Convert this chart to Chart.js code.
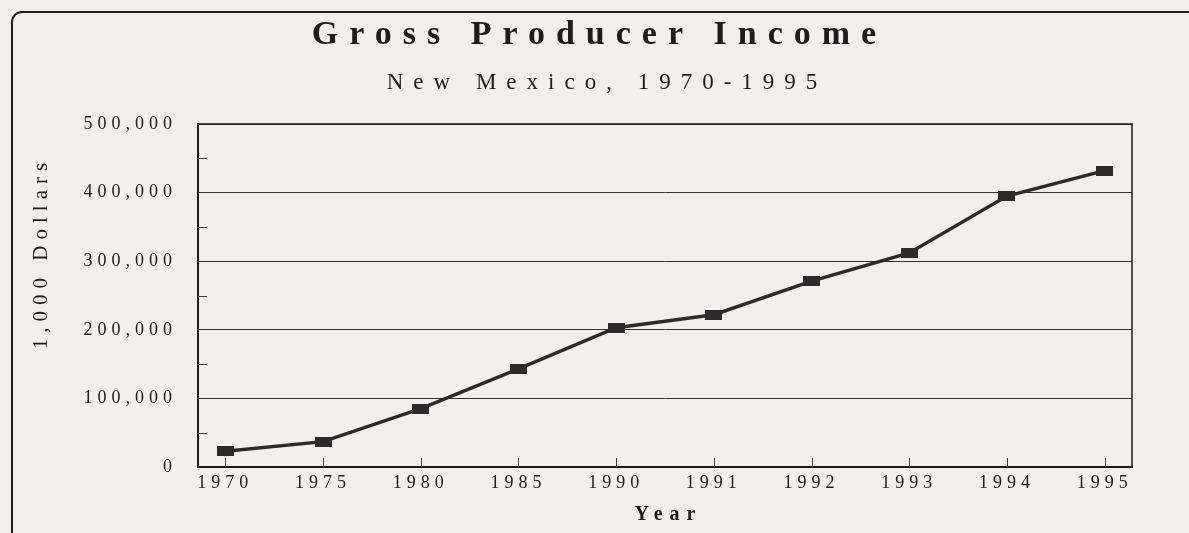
<!DOCTYPE html>
<html><head><meta charset="utf-8">
<script src="https://cdn.jsdelivr.net/npm/chart.js@4.4.0/dist/chart.umd.min.js"></script>
<style>html,body{margin:0;padding:0;background:#f3efee;overflow:hidden;} canvas{display:block;}</style>
</head><body>
<canvas id="c" width="1189" height="533" style="width:1189px;height:533px"></canvas>
<script>
// ---- data ----
const categories = ['1970','1975','1980','1985','1990','1991','1992','1993','1994','1995'];
const income = [23000, 37000, 85000, 143000, 203000, 222000, 271000, 312000, 395000, 432000];
const yMajorTicks = [0, 100000, 200000, 300000, 400000, 500000];
const yMinorTicks = [50000, 150000, 250000, 350000, 450000];
const titleText = 'Gross Producer Income';
const subtitleText = 'New Mexico, 1970-1995';
const yTitleText = '1,000 Dollars';
const xTitleText = 'Year';

const INK = '#1f1b1c';
const SERIF = '"Liberation Serif", "Times New Roman", serif';

// marker: small dark rectangle
const marker = document.createElement('canvas');
marker.width = 17; marker.height = 10;
(function(){ const m = marker.getContext('2d'); m.fillStyle = '#2e2a2b'; m.fillRect(0,0,17,10); })();

function setSpacing(chart){ chart.ctx.letterSpacing = '5px'; }

const decor = {
  id: 'decor',
  beforeUpdate: setSpacing,
  beforeLayout: setSpacing,
  beforeDraw(chart){
    const ctx = chart.ctx;
    ctx.save();
    ctx.letterSpacing = '0px';
    ctx.fillStyle = '#f3efee';
    ctx.fillRect(0,0,chart.width,chart.height);
    // outer frame (rounded top-left corner, continues off right/bottom)
    ctx.strokeStyle = INK; ctx.lineWidth = 2;
    ctx.beginPath();
    const r = 10, x0 = 12, y0 = 12;
    ctx.moveTo(x0, chart.height + 10);
    ctx.lineTo(x0, y0 + r);
    ctx.arcTo(x0, y0, x0 + r, y0, r);
    ctx.lineTo(chart.width + 10, y0);
    ctx.stroke();
    ctx.restore();
    setSpacing(chart);
  },
  afterDraw(chart){
    const ctx = chart.ctx;
    const a = chart.chartArea;
    const xs = chart.scales.x, ys = chart.scales.y;
    ctx.save();
    // plot box top/right
    ctx.strokeStyle = INK; ctx.lineWidth = 1.5;
    ctx.beginPath();
    ctx.moveTo(a.left, a.top); ctx.lineTo(a.right, a.top); ctx.lineTo(a.right, a.bottom);
    ctx.stroke();
    // inner ticks
    ctx.strokeStyle = '#444'; ctx.lineWidth = 1;
    ctx.beginPath();
    categories.forEach((c,i)=>{ const px = Math.round(xs.getPixelForValue(i)) + 0.5; ctx.moveTo(px, a.bottom); ctx.lineTo(px, a.bottom - 9); });
    yMinorTicks.forEach(v=>{ const py = Math.round(ys.getPixelForValue(v)) + 0.5; ctx.moveTo(a.left, py); ctx.lineTo(a.left + 9, py); });
    ctx.stroke();
    // titles
    ctx.fillStyle = INK;
    ctx.textBaseline = 'alphabetic';
    ctx.textAlign = 'center';
    ctx.font = 'bold 34px ' + SERIF;
    ctx.letterSpacing = '11px';
    ctx.fillText(titleText, 594 + 5.5, 44);
    ctx.font = '23px ' + SERIF;
    ctx.letterSpacing = '10px';
    ctx.fillText(subtitleText, 602 + 5, 89);
    ctx.font = 'bold 20px ' + SERIF;
    ctx.letterSpacing = '7px';
    ctx.fillText(xTitleText, (a.left + a.right)/2 + 3.5, 520);
    // y title rotated
    ctx.save();
    ctx.translate(40, 256);
    ctx.rotate(-Math.PI/2);
    ctx.font = '21px ' + SERIF;
    ctx.letterSpacing = '6px';
    ctx.fillText(yTitleText, 3, 7);
    ctx.restore();
    ctx.restore();
    setSpacing(chart);
  }
};

new Chart(document.getElementById('c'), {
  type: 'line',
  data: {
    datasets: [{
      data: income.map((v,i)=>({x:i, y:v})),
      borderColor: '#2e2a2b',
      borderWidth: 3.5,
      pointStyle: marker,
      pointRadius: 8,
      tension: 0,
      fill: false
    }]
  },
  options: {
    responsive: false,
    animation: false,
    devicePixelRatio: 1,
    layout: { padding: { top: 124, right: 57, bottom: 0, left: 0 } },
    plugins: { legend: { display: false }, tooltip: { enabled: false }, title: { display: false } },
    scales: {
      x: {
        type: 'linear',
        min: -0.28, max: 9.28,
        afterBuildTicks: s => { s.ticks = categories.map((c,i)=>({value:i})); },
        afterFit: s => { s.height = 66; },
        grid: { display: false, drawTicks: false },
        border: { display: true, color: INK, width: 2 },
        ticks: {
          callback: v => categories[v],
          color: INK,
          font: { family: SERIF, size: 18 },
          padding: 5,
          maxRotation: 0, autoSkip: false
        }
      },
      y: {
        type: 'linear',
        min: 0, max: 500000,
        afterBuildTicks: s => { s.ticks = yMajorTicks.map(v=>({value:v})); },
        afterFit: s => { s.width = 198; },
        grid: { color: '#333', lineWidth: 1, drawTicks: false },
        border: { display: true, color: INK, width: 2 },
        ticks: {
          callback: v => v.toLocaleString('en-US'),
          color: INK,
          font: { family: SERIF, size: 18 },
          padding: 21
        }
      }
    }
  },
  plugins: [decor]
});
</script>
</body></html>
